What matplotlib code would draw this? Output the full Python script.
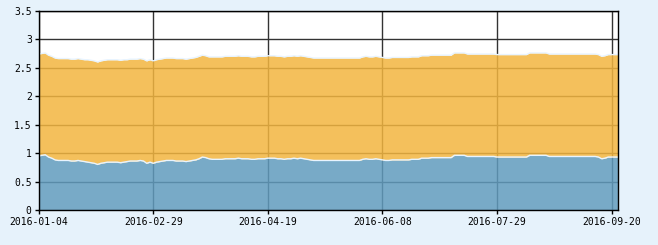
import matplotlib
matplotlib.use('Agg')
import matplotlib.pyplot as plt

# tick labels on the trading-day axis (one tick every 35 points)
tick_labels = ['2016-01-04', '2016-02-29', '2016-04-19', '2016-06-08', '2016-07-29', '2016-09-20']
tick_index = [0, 35, 70, 105, 140, 175]

# lower layer (blue), one value per trading day
blue = [
    0.95, 0.96, 0.97, 0.93, 0.91, 0.88, 0.87, 0.87, 0.87, 0.87,
    0.86, 0.86, 0.87, 0.86, 0.85, 0.84, 0.83, 0.82, 0.80, 0.82,
    0.83, 0.84, 0.84, 0.84, 0.84, 0.83, 0.84, 0.85, 0.86, 0.86,
    0.86, 0.87, 0.86, 0.82, 0.84, 0.82, 0.84, 0.85, 0.86, 0.87,
    0.87, 0.87, 0.86, 0.86, 0.86, 0.85, 0.86, 0.87, 0.88, 0.90,
    0.93, 0.92, 0.90, 0.89, 0.89, 0.89, 0.89, 0.90, 0.90, 0.90,
    0.90, 0.91, 0.90, 0.90, 0.90, 0.89, 0.89, 0.90, 0.90, 0.90,
    0.91, 0.91, 0.91, 0.90, 0.90, 0.89, 0.90, 0.90, 0.91, 0.90,
    0.91, 0.90, 0.89, 0.88, 0.87, 0.87, 0.87, 0.87, 0.87, 0.87,
    0.87, 0.87, 0.87, 0.87, 0.87, 0.87, 0.87, 0.87, 0.87, 0.89,
    0.90, 0.89, 0.89, 0.90, 0.89, 0.88, 0.87, 0.87, 0.88, 0.88,
    0.88, 0.88, 0.88, 0.88, 0.89, 0.89, 0.89, 0.91, 0.91, 0.91,
    0.92, 0.92, 0.92, 0.92, 0.92, 0.92, 0.92, 0.96, 0.96, 0.96,
    0.96, 0.94, 0.94, 0.94, 0.94, 0.94, 0.94, 0.94, 0.94, 0.94,
    0.93, 0.93, 0.93, 0.93, 0.93, 0.93, 0.93, 0.93, 0.93, 0.93,
    0.96, 0.96, 0.96, 0.96, 0.96, 0.96, 0.94, 0.94, 0.94, 0.94,
    0.94, 0.94, 0.94, 0.94, 0.94, 0.94, 0.94, 0.94, 0.94, 0.94,
    0.94, 0.93, 0.90, 0.91, 0.93, 0.93, 0.93, 0.93,
]

# upper layer (orange), thickness stacked on top of blue
orange = [
    1.79, 1.79, 1.79, 1.79, 1.79, 1.79, 1.79, 1.79, 1.79, 1.79,
    1.79, 1.79, 1.79, 1.79, 1.79, 1.80, 1.80, 1.80, 1.80, 1.80,
    1.80, 1.80, 1.80, 1.80, 1.80, 1.80, 1.80, 1.79, 1.79, 1.79,
    1.79, 1.79, 1.79, 1.80, 1.80, 1.80, 1.80, 1.80, 1.80, 1.80,
    1.80, 1.80, 1.80, 1.80, 1.80, 1.80, 1.80, 1.80, 1.80, 1.80,
    1.79, 1.79, 1.79, 1.80, 1.80, 1.80, 1.80, 1.80, 1.80, 1.80,
    1.80, 1.80, 1.80, 1.80, 1.80, 1.80, 1.80, 1.80, 1.80, 1.80,
    1.80, 1.80, 1.80, 1.80, 1.80, 1.80, 1.80, 1.80, 1.80, 1.80,
    1.80, 1.80, 1.80, 1.80, 1.80, 1.80, 1.80, 1.80, 1.80, 1.80,
    1.80, 1.80, 1.80, 1.80, 1.80, 1.80, 1.80, 1.80, 1.80, 1.80,
    1.80, 1.80, 1.80, 1.80, 1.80, 1.80, 1.80, 1.80, 1.80, 1.80,
    1.80, 1.80, 1.80, 1.80, 1.80, 1.80, 1.80, 1.80, 1.80, 1.80,
    1.80, 1.80, 1.80, 1.80, 1.80, 1.80, 1.80, 1.80, 1.80, 1.80,
    1.80, 1.80, 1.80, 1.80, 1.80, 1.80, 1.80, 1.80, 1.80, 1.80,
    1.80, 1.80, 1.80, 1.80, 1.80, 1.80, 1.80, 1.80, 1.80, 1.80,
    1.80, 1.80, 1.80, 1.80, 1.80, 1.80, 1.80, 1.80, 1.80, 1.80,
    1.80, 1.80, 1.80, 1.80, 1.80, 1.80, 1.80, 1.80, 1.80, 1.80,
    1.80, 1.80, 1.80, 1.80, 1.80, 1.80, 1.80, 1.80,
]

x = list(range(len(blue)))
top = [b + o for b, o in zip(blue, orange)]

fig = plt.figure(figsize=(6.58, 2.45), dpi=100, facecolor='#e6f2fb')
ax = fig.add_axes([0.0588, 0.143, 0.8805, 0.813])
ax.set_facecolor('white')

# grid sits under the semi-transparent areas
ax.set_axisbelow(True)
ax.grid(True, color='#333333', linewidth=1.0)

ax.fill_between(x, 0, blue, color='#609bbe', alpha=0.85, linewidth=0, zorder=2)
ax.fill_between(x, blue, top, color='#f3b53f', alpha=0.85, linewidth=0, zorder=2)
ax.plot(x, blue, color='#e8f4ff', linewidth=1.0, zorder=3)
ax.plot(x, top, color='#e8f4ff', linewidth=1.0, zorder=3)

ax.set_xlim(0, len(blue) - 1)
ax.set_ylim(0, 3.5)
ax.set_yticks([0, 0.5, 1, 1.5, 2, 2.5, 3, 3.5])
ax.set_yticklabels(['0', '0.5', '1', '1.5', '2', '2.5', '3', '3.5'])
ax.set_xticks(tick_index)
ax.set_xticklabels(tick_labels)

for s in ax.spines.values():
    s.set_color('black')
    s.set_linewidth(1.0)
    s.set_zorder(4)

ax.tick_params(axis='both', direction='out', length=3, width=1, color='black',
               labelsize=7, pad=2)
for lbl in ax.get_xticklabels() + ax.get_yticklabels():
    lbl.set_family('DejaVu Sans Mono')

fig.savefig('out.png', dpi=100, facecolor=fig.get_facecolor())
